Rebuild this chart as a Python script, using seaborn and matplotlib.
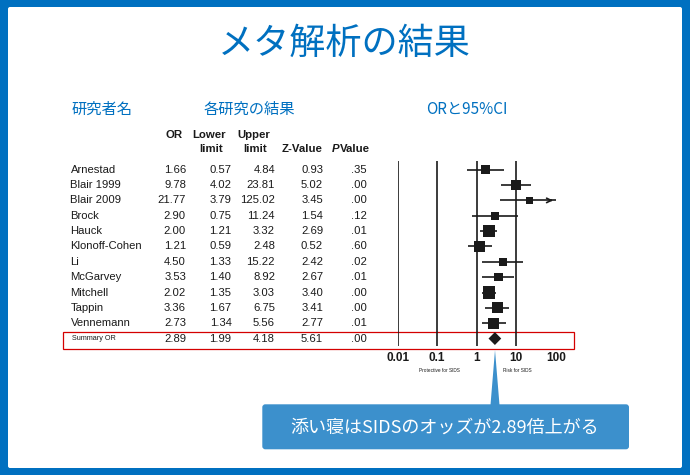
import numpy as np
import pandas as pd
import matplotlib
matplotlib.use("Agg")
import matplotlib.pyplot as plt
from matplotlib.patches import FancyBboxPatch, Rectangle, Polygon
import seaborn as sns

# ---------------- data ----------------
studies = ["Arnestad", "Blair 1999", "Blair 2009", "Brock", "Hauck", "Klonoff-Cohen",
           "Li", "McGarvey", "Mitchell", "Tappin", "Vennemann"]
odds_ratio = [1.66, 9.78, 21.77, 2.90, 2.00, 1.21, 4.50, 3.53, 2.02, 3.36, 2.73]
lower_limit = [0.57, 4.02, 3.79, 0.75, 1.21, 0.59, 1.33, 1.40, 1.35, 1.67, 1.34]
upper_limit = [4.84, 23.81, 125.02, 11.24, 3.32, 2.48, 15.22, 8.92, 3.03, 6.75, 5.56]
z_value = [0.93, 5.02, 3.45, 1.54, 2.69, 0.52, 2.42, 2.67, 3.40, 3.41, 2.77]
p_value = [".35", ".00", ".00", ".12", ".01", ".60", ".02", ".01", ".00", ".00", ".01"]
weight = [8.5, 10, 7, 8, 12, 11, 8, 8.5, 12.5, 11, 11]   # relative study weights (square side)

summary_label = "Summary OR"
summary_or, summary_lo, summary_hi, summary_z, summary_p = 2.89, 1.99, 4.18, 5.61, ".00"

axis_ticks = [0.01, 0.1, 1, 10, 100]
axis_tick_labels = ["0.01", "0.1", "1", "10", "100"]
ref_lines = [0.01, 0.1, 1, 10]

title = "メタ解析の結果"
section_headers = ["研究者名", "各研究の結果", "ORと95%CI"]
callout = "添い寝はSIDSのオッズが2.89倍上がる"
left_note, right_note = "Protective for SIDS", "Risk for SIDS"

# ---------------- styling ----------------
sns.set_theme(style="white")
BLUE = "#0070C0"
CALLOUT = "#3C90CC"
INK = "#1a1a1a"
JP = ["Noto Sans CJK JP", "DejaVu Sans"]
LAT = ["Liberation Sans", "DejaVu Sans"]

W, H = 690, 475
fig = plt.figure(figsize=(W / 100, H / 100), dpi=100, facecolor=BLUE)

bg = fig.add_axes([0, 0, 1, 1])
bg.set_xlim(0, W)
bg.set_ylim(H, 0)
bg.axis("off")
bg.add_patch(FancyBboxPatch((8, 7), 674, 461, boxstyle="round,pad=0,rounding_size=2",
                            fc="white", ec="none"))

# title & section headers
bg.text(344, 44, title, fontsize=26, color=BLUE, ha="center", va="center", family=JP)
bg.text(72, 109, section_headers[0], fontsize=11, color=BLUE, ha="left", va="center", family=JP)
bg.text(249, 109, section_headers[1], fontsize=11, color=BLUE, ha="center", va="center", family=JP)
bg.text(467, 109, section_headers[2], fontsize=11, color=BLUE, ha="center", va="center", family=JP)

# table headers
hs = dict(fontsize=8.2, fontweight="bold", color=INK, va="center", family=LAT)
bg.text(183, 135, "OR", ha="right", **hs)
bg.text(209.5, 135, "Lower", ha="center", **hs)
bg.text(211, 149, "limit", ha="center", **hs)
bg.text(253.5, 135, "Upper", ha="center", **hs)
bg.text(255, 149, "limit", ha="center", **hs)
bg.text(302, 149, "Z-Value", ha="center", **hs)
bg.text(339, 149, "P", ha="right", fontstyle="italic", **hs)
bg.text(339.5, 149, "Value", ha="left", **hs)

# table rows
def row_y(i):
    return 169.7 + 15.35 * i

ts = dict(fontsize=8.1, color=INK, va="center", family=LAT)
col_x = [186, 231.5, 275, 323, 367]
for i, name in enumerate(studies):
    y = row_y(i)
    bg.text(70.5, y, name, ha="left", **ts)
    vals = [f"{odds_ratio[i]:.2f}", f"{lower_limit[i]:.2f}", f"{upper_limit[i]:.2f}",
            f"{z_value[i]:.2f}", p_value[i]]
    for xv, s in zip(col_x, vals):
        bg.text(xv, y, s, ha="right", **ts)

ys = row_y(len(studies))
bg.text(72.5, ys, summary_label, ha="left", fontsize=5.2, color=INK, va="center", family=LAT)
for xv, s in zip(col_x, [f"{summary_or:.2f}", f"{summary_lo:.2f}", f"{summary_hi:.2f}",
                         f"{summary_z:.2f}", summary_p]):
    bg.text(xv, ys, s, ha="right", **ts)

# red highlight box
bg.add_patch(Rectangle((62.5, 331.7), 511.5, 17.6, fc="none", ec="#D40000", lw=0.9, zorder=1))

# ---------------- forest plot ----------------
px_left, px_right = 397.7, 555.7
px_top, px_bot = 161, 346
fx = fig.add_axes([px_left / W, 1 - px_bot / H, (px_right - px_left) / W, (px_bot - px_top) / H])
fx.patch.set_alpha(0)
fx.set_xscale("log")
fx.set_xlim(axis_ticks[0], axis_ticks[-1])
fx.set_ylim((px_bot - 169.7) / 15.35, (px_top - 169.7) / 15.35)

for v in ref_lines:
    fx.axvline(v, color=INK, lw=1.2, zorder=1)

rows = np.arange(len(studies))
df = pd.DataFrame({"study": studies, "OR": odds_ratio, "lo": lower_limit,
                   "hi": upper_limit, "row": rows, "w": weight})
clip_hi = np.minimum(df["hi"], axis_ticks[-1])
fx.hlines(df["row"], df["lo"], clip_hi, color=INK, lw=1.2, zorder=2)
for r, hi in zip(df["row"], df["hi"]):
    if hi > axis_ticks[-1]:
        fx.annotate("", xy=(axis_ticks[-1], r), xytext=(axis_ticks[-1] * 0.6, r),
                    arrowprops=dict(arrowstyle="->", color=INK, lw=1.2,
                                    mutation_scale=8), zorder=3)

sizes = (df["w"] * 0.72) ** 2
sns.scatterplot(data=df, x="OR", y="row", marker="s", s=sizes, color=INK,
                edgecolor="none", legend=False, ax=fx, zorder=4)

sr = len(studies)
fx.fill([summary_lo, summary_or, summary_hi, summary_or],
        [sr, sr - 0.42, sr, sr + 0.42], color=INK, zorder=4, lw=0)

fx.set_xticks(axis_ticks)
fx.set_xticklabels(axis_tick_labels, fontsize=8.5, fontweight="bold", family=LAT, color=INK)
fx.xaxis.set_minor_locator(matplotlib.ticker.NullLocator())
fx.tick_params(axis="x", length=0, pad=4)
fx.set_yticks([])
fx.set_xlabel("")
fx.set_ylabel("")
for sp in fx.spines.values():
    sp.set_visible(False)

bg.text(439, 370, left_note, fontsize=3.4, color=INK, ha="center", va="center", family=LAT)
bg.text(517, 370, right_note, fontsize=3.4, color=INK, ha="center", va="center", family=LAT)

# ---------------- callout ----------------
bg.add_patch(Polygon([(495, 350), (490.5, 405), (499.5, 405)], closed=True, fc=CALLOUT, ec="none", zorder=5))
bg.add_patch(FancyBboxPatch((262.3, 404.3), 366.7, 45, boxstyle="round,pad=0,rounding_size=3",
                            fc=CALLOUT, ec="none", zorder=5))
bg.text(445, 427.5, callout, fontsize=13, color="white", ha="center", va="center",
        family=JP, zorder=6)

fig.savefig("out.png", dpi=100, facecolor=BLUE)
